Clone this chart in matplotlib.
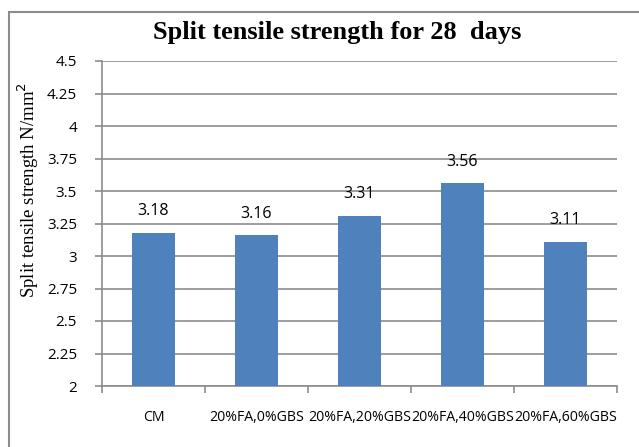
import matplotlib
matplotlib.use("Agg")
import matplotlib.pyplot as plt
from matplotlib.patches import Rectangle

categories = ["CM", "20%FA,0%GBS", "20%FA,20%GBS", "20%FA,40%GBS", "20%FA,60%GBS"]
values = [3.18, 3.16, 3.31, 3.56, 3.11]
yticks = [2, 2.25, 2.5, 2.75, 3, 3.25, 3.5, 3.75, 4, 4.25, 4.5]
ytick_labels = ["2", "2.25", "2.5", "2.75", "3", "3.25", "3.5", "3.75", "4", "4.25", "4.5"]

W, H = 639, 447
fig = plt.figure(figsize=(W / 100, H / 100), dpi=100)
fig.patch.set_facecolor("white")

# outer chart border
fig.patches.append(Rectangle((8.5 / W, -0.2), 1.2, 1.2 - 12 / H,
                             transform=fig.transFigure, fill=False,
                             edgecolor="#8c8c8c", linewidth=1.5))

left, right = 102 / W, 617 / W
bottom, top = 1 - 386 / H, 1 - 61 / H
ax = fig.add_axes([left, bottom, right - left, top - bottom])

grid_c = "#8c8c8c"
x = list(range(len(categories)))
ax.bar(x, values, width=0.41, color="#4f81bd", zorder=3)
ax.set_xlim(-0.5, len(categories) - 0.5)
ax.set_ylim(2, 4.5)

ax.set_yticks(yticks)
ax.set_yticklabels(ytick_labels, fontfamily="Open Sans", fontsize=11)
ax.yaxis.grid(True, color=grid_c, linewidth=1.2, zorder=0)
ax.set_axisbelow(True)

ax.set_xticks([i + 0.5 for i in range(-1, len(categories))], minor=False)
ax.set_xticklabels([])
ax.set_xticks(x, minor=True)
ax.set_xticklabels(categories, minor=True, fontfamily="Open Sans", fontsize=10.2)
ax.tick_params(axis="x", which="minor", length=0, pad=17)
ax.tick_params(axis="x", which="major", length=5, color=grid_c, width=1.2)
ax.tick_params(axis="y", length=5, color=grid_c, width=1.2, pad=13)

for s in ["top", "right"]:
    ax.spines[s].set_visible(False)
ax.spines["left"].set_color(grid_c)
ax.spines["bottom"].set_color(grid_c)
ax.spines["left"].set_linewidth(1.2)
ax.spines["bottom"].set_linewidth(1.2)

for xi, v in zip(x, values):
    ax.annotate(f"{v:.2f}", (xi, v), xytext=(0, 15.5), textcoords="offset points",
                ha="center", va="center", fontfamily="Open Sans", fontsize=11.5)

fig.text(337 / W, 1 - 32 / H, "Split tensile strength for 28  days",
         ha="center", va="center", fontfamily="Liberation Serif",
         fontweight="bold", fontsize=19)
fig.text(28 / W, 1 - 190 / H, "Split tensile strength N/mm$^2$",
         ha="center", va="center", rotation=90,
         fontfamily="Liberation Serif", fontsize=13.5)

fig.savefig("out.png", dpi=100, facecolor="white")
